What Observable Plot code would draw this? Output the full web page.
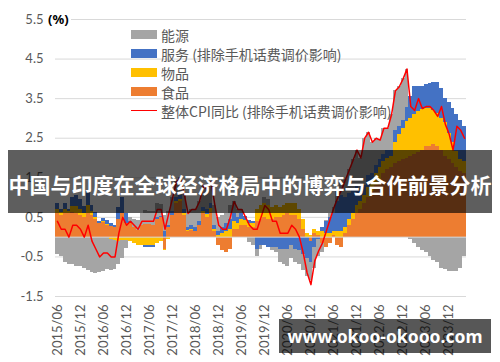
<!DOCTYPE html>
<html>
<head>
<meta charset="utf-8">
<script src="https://cdn.jsdelivr.net/npm/d3@7"></script>
<script src="https://cdn.jsdelivr.net/npm/@observablehq/plot@0.6"></script>
<style>
  body { margin: 0; background: #fff; }
  #wrap { position: relative; width: 500px; height: 362px; overflow: hidden; font-family: "Noto Sans CJK SC", "Noto Sans", sans-serif; }
  #chart { position: absolute; left: 0; top: 0; }
  #pct { position: absolute; left: 47px; top: 10px; font: bold 13px "Noto Sans", sans-serif; color: #000; background: #fff; padding: 0 2px 0 1px; line-height: 18px; }
  #legend { position: absolute; left: 131px; top: 25px; font-size: 14px; color: #595959; }
  .row { display: flex; align-items: center; height: 19px; white-space: nowrap; }
  .sw { width: 26px; height: 9px; margin-right: 4px; flex: none; }
  .ln { width: 26px; height: 1.5px; margin-right: 4px; background: #FF0000; flex: none; }
  #banner { position: absolute; left: 8px; top: 150px; width: 484px; height: 63px; background: rgba(0,0,0,0.63); }
  #banner span { position: absolute; left: 0; right: 0; top: 3px; line-height: 63px; text-align: center; color: #fff; font-weight: bold; font-size: 21px; white-space: nowrap; font-family: "Noto Sans CJK SC", sans-serif; }
  #mark { position: absolute; left: 279px; top: 319px; width: 212px; height: 34px; background: rgba(0,0,0,0.66); color: #fff; font: bold 17.5px "Noto Sans", sans-serif; line-height: 34px; text-align: center; }
</style>
</head>
<body>
<div id="wrap">
  <div id="chart"></div>
  <div id="pct">(%)</div>
  <div id="legend"></div>
  <div id="banner"><span>中国与印度在全球经济格局中的博弈与合作前景分析</span></div>
  <div id="mark">www.okoo-okooo.com</div>
</div>
<script>
// ---- data ----
const months = [
  "2015/06","2015/07","2015/08","2015/09","2015/10","2015/11","2015/12",
  "2016/01","2016/02","2016/03","2016/04","2016/05","2016/06","2016/07","2016/08","2016/09","2016/10","2016/11","2016/12",
  "2017/01","2017/02","2017/03","2017/04","2017/05","2017/06","2017/07","2017/08","2017/09","2017/10","2017/11","2017/12",
  "2018/01","2018/02","2018/03","2018/04","2018/05","2018/06","2018/07","2018/08","2018/09","2018/10","2018/11","2018/12",
  "2019/01","2019/02","2019/03","2019/04","2019/05","2019/06","2019/07","2019/08","2019/09","2019/10","2019/11","2019/12",
  "2020/01","2020/02","2020/03","2020/04","2020/05","2020/06","2020/07","2020/08","2020/09","2020/10","2020/11","2020/12",
  "2021/01","2021/02","2021/03","2021/04","2021/05","2021/06","2021/07","2021/08","2021/09","2021/10","2021/11","2021/12",
  "2022/01","2022/02","2022/03","2022/04","2022/05","2022/06","2022/07","2022/08","2022/09","2022/10","2022/11","2022/12",
  "2023/01","2023/02","2023/03","2023/04","2023/05","2023/06","2023/07","2023/08","2023/09","2023/10","2023/11","2023/12",
  "2024/01","2024/02","2024/03","2024/04"
];

const tickLabels = ["2015/06","2015/12","2016/06","2016/12","2017/06","2017/12","2018/06","2018/12","2019/06","2019/12","2020/06","2020/12","2021/06","2021/12","2022/06","2022/12","2023/06","2023/12"];
const yTicks = [-1.5, -0.5, 0.5, 1.5, 2.5, 3.5, 4.5, 5.5];

const seriesNames = ["能源", "服务 (排除手机话费调价影响)", "物品", "食品"];
const lineName = "整体CPI同比 (排除手机话费调价影响)";

// 食品
const food = [
  0.6,0.55,0.6,0.6,0.62,0.6,0.55,
  0.5,0.6,0.55,0.45,0.35,0.38,0.3,0.28,0.25,0.45,0.6,0.35,
  0.35,0.25,0.17,0.3,0.32,0.33,0.3,0.45,0.5,-0.3,0.25,0.55,
  0.85,0.9,0.55,0.15,0.17,0.13,0.3,0.6,0.5,0.63,0.13,-0.2,
  -0.35,-0.4,-0.3,0.2,0.2,0.3,0.3,0.25,0.25,0.4,0.45,0.5,
  0.45,0.45,0.5,0.5,0.55,0.6,0.55,0.55,0.45,0.2,0.0,-0.1,
  0.1,0.05,-0.15,-0.25,-0.15,0.05,-0.2,-0.25,0.1,0.3,0.45,0.6,
  0.7,0.85,1.0,1.15,1.3,1.45,1.6,1.7,1.75,1.85,1.9,1.95,
  2.0,2.05,2.1,2.15,2.2,2.3,2.3,2.35,2.3,2.2,2.05,1.95,
  1.85,1.75,1.65,1.6
];
// 物品
const goods = [
  0.1,0.08,0.1,0.05,0.15,0.18,0.15,
  0.1,0.2,0.1,0.05,0.0,0.02,0.02,-0.05,-0.08,-0.1,-0.08,-0.08,
  -0.1,-0.15,-0.2,-0.2,-0.22,-0.2,-0.2,-0.15,-0.12,-0.05,-0.05,0.0,
  0.05,0.05,0.05,0.02,0.03,0.02,0.0,0.05,0.08,0.1,0.07,0.05,
  0.1,0.15,0.2,0.2,0.15,0.15,0.12,0.1,0.1,0.3,0.35,0.35,
  0.35,0.3,0.3,0.25,0.25,0.25,0.3,0.3,0.25,0.25,0.1,0.05,
  0.1,0.1,0.15,0.1,0.1,0.1,0.15,0.15,0.15,0.15,0.15,0.2,
  0.2,0.2,0.25,0.25,0.3,0.3,0.3,0.3,0.3,0.55,0.7,0.8,
  0.93,0.95,1.0,1.03,1.02,0.94,0.94,0.85,0.82,0.8,0.85,0.68,
  0.53,0.42,0.32,0.3
];
// 服务 (排除手机话费调价影响)
const services = [
  0.15,0.07,0.15,0.05,0.23,0.27,0.25,
  0.18,0.35,0.15,0.13,0.05,0.08,0.1,0.07,0.05,0.3,0.4,0.25,
  0.05,0.0,-0.02,0.0,-0.05,-0.05,-0.05,0.05,0.02,0.15,0.05,0.1,
  0.1,0.1,0.1,0.08,0.1,0.1,0.1,0.1,0.12,0.12,0.1,0.1,
  0.15,0.2,0.25,0.2,0.15,0.15,0.1,0.08,0.05,-0.3,-0.2,-0.2,
  -0.25,-0.25,-0.25,-0.3,-0.3,-0.3,-0.2,-0.3,-0.35,-0.45,-0.55,-0.55,
  -0.25,-0.05,0.1,0.3,0.4,0.45,0.75,0.9,0.75,0.65,0.6,0.5,
  0.25,0.25,0.3,0.2,0.2,0.2,0.2,0.2,0.15,0.3,0.2,0.2,
  0.35,0.55,0.7,0.62,0.58,0.63,0.64,0.7,0.78,0.75,0.6,0.77,
  0.87,0.93,0.98,0.9
];
// 能源
const energy = [
  -0.45,-0.5,-0.65,-0.7,-0.7,-0.75,-0.75,
  -0.78,-0.85,-0.9,-0.93,-0.9,-0.88,-0.82,-0.8,-0.75,-0.6,-0.45,-0.2,
  0.1,0.2,0.25,0.3,0.35,0.32,0.35,0.35,0.3,0.4,0.35,0.35,
  0.4,0.45,0.4,0.35,0.4,0.45,0.5,0.55,0.5,0.55,0.5,0.35,
  0.3,0.25,0.35,0.3,0.2,0.1,-0.02,-0.13,-0.2,-0.2,-0.1,0.15,
  0.15,-0.1,-0.15,-0.35,-0.4,-0.45,-0.35,-0.35,-0.35,-0.4,-0.45,-0.45,
  -0.55,-0.45,-0.25,0.02,0.1,0.15,0.3,0.4,0.45,0.6,0.75,0.9,
  0.85,1.2,1.1,0.8,0.7,0.5,0.65,0.55,0.9,1.0,1.0,1.05,
  0.95,-0.05,-0.15,-0.25,-0.35,-0.4,-0.5,-0.6,-0.65,-0.8,-0.82,-0.86,
  -0.86,-0.86,-0.8,-0.5
];
// 整体CPI同比 (排除手机话费调价影响)
const cpi = [
  0.4,0.2,0.2,0.0,0.3,0.3,0.2,
  0.0,0.3,-0.1,-0.3,-0.5,-0.4,-0.4,-0.5,-0.5,0.1,0.5,0.3,
  0.4,0.3,0.2,0.4,0.4,0.4,0.4,0.7,0.7,0.2,0.6,1.0,
  1.4,1.5,1.1,0.6,0.7,0.7,0.9,1.3,1.2,1.4,0.8,0.3,
  0.2,0.2,0.5,0.9,0.7,0.7,0.5,0.3,0.2,0.2,0.5,0.8,
  0.7,0.4,0.4,0.1,0.1,0.1,0.3,0.2,0.0,-0.4,-0.9,-1.2,
  -0.6,-0.35,-0.15,0.15,0.45,0.75,1.0,1.2,1.45,1.7,1.95,2.2,
  2.0,2.5,2.65,2.4,2.5,2.45,2.75,2.75,3.1,3.7,3.8,4.0,
  4.25,3.3,3.2,3.5,3.25,3.3,3.3,3.2,3.05,3.3,2.85,2.6,
  2.2,2.8,2.7,2.5
];

const colors = ["#A5A5A5", "#4472C4", "#FFC000", "#ED7D31"];
const stackOrder = ["食品", "物品", "服务 (排除手机话费调价影响)", "能源"];

// ---- tables ----
const seriesArrays = [energy, services, goods, food];
const rows = [];
seriesNames.forEach((name, k) => {
  months.forEach((m, i) => rows.push({month: m, series: name, value: seriesArrays[k][i]}));
});
const lineRows = months.map((m, i) => ({month: m, cpi: cpi[i]}));

const chart = Plot.plot({
  width: 500,
  height: 362,
  marginLeft: 55,
  marginRight: 34,
  marginTop: 19,
  marginBottom: 66,
  style: {fontFamily: "Lato, 'Noto Sans', sans-serif", fontSize: "13px", color: "#595959", background: "transparent", overflow: "visible"},
  x: {type: "band", domain: months, padding: 0, round: false, ticks: tickLabels, tickRotate: -90, tickSize: 0, tickPadding: 8, label: null},
  y: {domain: [-1.5, 5.5], ticks: yTicks, tickFormat: d => d.toFixed(1), tickSize: 0, tickPadding: 12, label: null},
  color: {domain: seriesNames, range: colors},
  marks: [
    Plot.ruleY(yTicks, {stroke: "#D9D9D9", strokeWidth: 1}),
    Plot.barY(rows, {x: "month", y: "value", fill: "series", order: stackOrder, shapeRendering: "crispEdges"}),
    Plot.ruleY([0], {stroke: "#D9D9D9", strokeWidth: 1}),
    Plot.line(lineRows, {x: "month", y: "cpi", stroke: "#FF0000", strokeWidth: 1.5})
  ]
});
document.getElementById("chart").appendChild(chart);

// legend
const legend = document.getElementById("legend");
seriesNames.forEach((name, k) => {
  const row = document.createElement("div");
  row.className = "row";
  const sw = document.createElement("span");
  sw.className = "sw";
  sw.style.background = colors[k];
  const t = document.createElement("span");
  t.textContent = name;
  row.appendChild(sw); row.appendChild(t);
  legend.appendChild(row);
});
{
  const row = document.createElement("div");
  row.className = "row";
  const sw = document.createElement("span");
  sw.className = "ln";
  const t = document.createElement("span");
  t.textContent = lineName;
  row.appendChild(sw); row.appendChild(t);
  legend.appendChild(row);
}
</script>
</body>
</html>
